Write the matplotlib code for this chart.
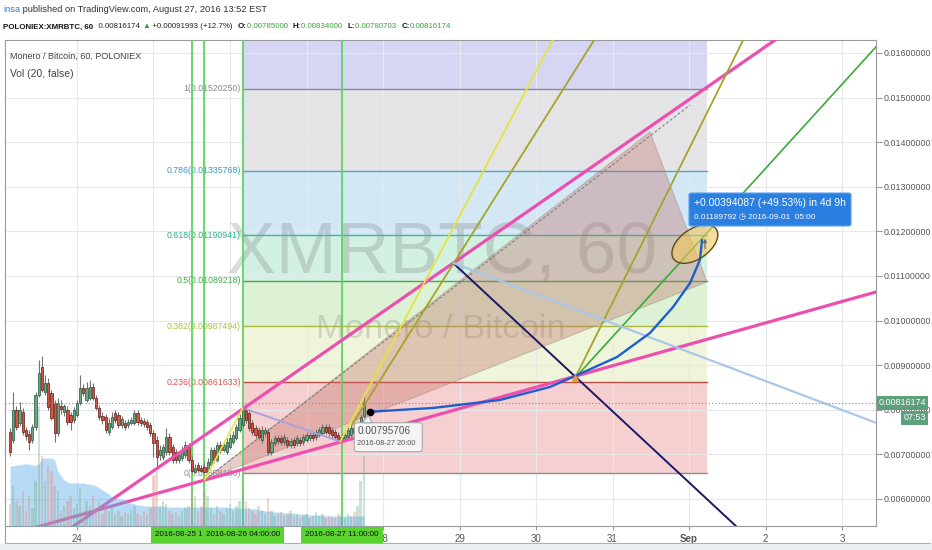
import numpy as np
import pandas as pd
import matplotlib
matplotlib.use("Agg")
import matplotlib.pyplot as plt
from matplotlib import font_manager as fm
from matplotlib.patches import Rectangle, Polygon, Ellipse, FancyBboxPatch
import matplotlib.transforms as mtransforms

# ---------------------------------------------------------------- data
candle_start = "2016-08-23 03:00"   # hourly candles
opens = [
    0.007503, 0.007324, 0.007996, 0.007705, 0.007951, 0.007548, 0.007458, 0.007324, 0.007615, 0.008332,
    0.008959, 0.008399, 0.008601, 0.008377, 0.008153, 0.007481, 0.008086, 0.007951, 0.007996, 0.007884,
    0.007772, 0.007884, 0.008153, 0.008489, 0.008220, 0.008265, 0.008511, 0.008265, 0.008041, 0.007862,
    0.007839, 0.007503, 0.007615, 0.007929, 0.007884, 0.007660, 0.007705, 0.007660, 0.007705, 0.007705,
    0.007929, 0.007772, 0.007750, 0.007727, 0.007660, 0.007481, 0.007324, 0.006988, 0.006943, 0.007055,
    0.007391, 0.007167, 0.007055, 0.006876, 0.006921, 0.006988, 0.007167, 0.006876, 0.006607, 0.006764,
    0.006697, 0.006719, 0.006607, 0.006764, 0.007100, 0.006876, 0.007212, 0.007100, 0.007055, 0.007167,
    0.007279, 0.007369, 0.007548, 0.007660, 0.007996, 0.007929, 0.007705, 0.007593, 0.007548, 0.007324,
    0.007481, 0.007503, 0.007055, 0.007257, 0.007369, 0.007369, 0.007279, 0.007324, 0.007212, 0.007324,
    0.007257, 0.007324, 0.007279, 0.007324, 0.007369, 0.007436, 0.007391, 0.007436, 0.007481, 0.007615,
    0.007615, 0.007548, 0.007503, 0.007436, 0.007324, 0.007324, 0.007391, 0.007436, 0.007593, 0.007481,
    0.007615, 0.00785000]
highs = [
    0.007593, 0.008399, 0.008086, 0.008175, 0.008041, 0.007615, 0.007548, 0.007682, 0.008399, 0.009116,
    0.009206, 0.008780, 0.008713, 0.008444, 0.008220, 0.008265, 0.008220, 0.008130, 0.008086, 0.007951,
    0.008063, 0.008220, 0.008780, 0.008578, 0.008623, 0.008668, 0.008601, 0.008332, 0.008108, 0.007951,
    0.007906, 0.007817, 0.007951, 0.007996, 0.007951, 0.007862, 0.007772, 0.007794, 0.007839, 0.007996,
    0.007996, 0.007839, 0.007817, 0.007794, 0.007727, 0.007548, 0.007414, 0.007212, 0.007234, 0.007593,
    0.007481, 0.007234, 0.007122, 0.007078, 0.007190, 0.007302, 0.007257, 0.006966, 0.006786, 0.006831,
    0.006764, 0.006809, 0.006921, 0.007167, 0.007167, 0.007279, 0.007302, 0.007302, 0.007369, 0.007458,
    0.007526, 0.007682, 0.007906, 0.008063, 0.008041, 0.007996, 0.007772, 0.007660, 0.007615, 0.007638,
    0.007615, 0.007593, 0.007346, 0.007436, 0.007436, 0.007436, 0.007458, 0.007391, 0.007369, 0.007391,
    0.007436, 0.007391, 0.007458, 0.007503, 0.007503, 0.007503, 0.007570, 0.007615, 0.007682, 0.007682,
    0.007682, 0.007615, 0.007570, 0.007503, 0.007458, 0.007503, 0.007615, 0.007660, 0.007660, 0.007682,
    0.007906, 0.00834000]
lows = [
    0.006966, 0.007257, 0.007548, 0.007638, 0.007436, 0.007324, 0.007100, 0.007257, 0.007548, 0.008287,
    0.008399, 0.008332, 0.007996, 0.007772, 0.007279, 0.007414, 0.007906, 0.007862, 0.007660, 0.007548,
    0.007705, 0.007839, 0.008108, 0.008310, 0.008175, 0.008220, 0.008220, 0.007996, 0.007772, 0.007682,
    0.007481, 0.007436, 0.007570, 0.007705, 0.007593, 0.007593, 0.007548, 0.007593, 0.007660, 0.007660,
    0.007660, 0.007638, 0.007615, 0.007548, 0.007414, 0.006943, 0.006719, 0.006876, 0.006876, 0.006988,
    0.006988, 0.006809, 0.006809, 0.006809, 0.006854, 0.006921, 0.006809, 0.006582, 0.006590, 0.006607,
    0.006607, 0.006600, 0.006595, 0.006719, 0.006809, 0.006831, 0.007033, 0.007055, 0.007010, 0.007122,
    0.007234, 0.007324, 0.007503, 0.007615, 0.007705, 0.007526, 0.007436, 0.007369, 0.007324, 0.007257,
    0.007414, 0.006988, 0.006988, 0.007190, 0.007234, 0.007212, 0.007212, 0.007145, 0.007145, 0.007145,
    0.007190, 0.007190, 0.007212, 0.007279, 0.007302, 0.007302, 0.007324, 0.007391, 0.007436, 0.007458,
    0.007414, 0.007369, 0.007324, 0.007279, 0.007279, 0.007279, 0.007346, 0.007391, 0.007436, 0.007436,
    0.007570, 0.00780703]
closes = [
    0.007055, 0.007996, 0.007615, 0.007996, 0.007503, 0.007414, 0.007279, 0.007615, 0.008332, 0.008825,
    0.008444, 0.008601, 0.008063, 0.007817, 0.007481, 0.008153, 0.008018, 0.008086, 0.007727, 0.007727,
    0.007996, 0.008153, 0.008489, 0.008377, 0.008489, 0.008511, 0.008265, 0.008041, 0.007839, 0.007772,
    0.007548, 0.007705, 0.007839, 0.007772, 0.007660, 0.007794, 0.007615, 0.007727, 0.007772, 0.007929,
    0.007727, 0.007705, 0.007682, 0.007615, 0.007481, 0.007257, 0.006943, 0.007100, 0.007167, 0.007391,
    0.007055, 0.006876, 0.006876, 0.006988, 0.007100, 0.007212, 0.006876, 0.006630, 0.006697, 0.006652,
    0.006630, 0.006607, 0.006831, 0.007100, 0.006876, 0.007212, 0.007100, 0.007212, 0.007279, 0.007369,
    0.007436, 0.007615, 0.007817, 0.008041, 0.007772, 0.007593, 0.007503, 0.007436, 0.007391, 0.007548,
    0.007548, 0.007055, 0.007279, 0.007369, 0.007302, 0.007279, 0.007391, 0.007212, 0.007302, 0.007212,
    0.007369, 0.007257, 0.007391, 0.007436, 0.007436, 0.007369, 0.007503, 0.007548, 0.007615, 0.007503,
    0.007481, 0.007436, 0.007391, 0.007324, 0.007391, 0.007436, 0.007548, 0.007593, 0.007481, 0.007615,
    0.007839, 0.00816174]
volumes = [
    22, 40, 25, 20, 35, 15, 30, 18, 45, 120,
    70, 45, 60, 55, 40, 35, 15, 20, 25, 30,
    18, 22, 38, 15, 25, 20, 30, 18, 25, 12,
    22, 15, 20, 12, 15, 10, 14, 12, 16, 20,
    12, 10, 14, 12, 18, 50, 55, 20, 25, 22,
    15, 12, 14, 10, 15, 18, 20, 35, 30, 15,
    20, 35, 30, 18, 12, 20, 15, 12, 18, 22,
    15, 20, 25, 35, 25, 18, 15, 12, 20, 15,
    12, 28, 15, 10, 12, 14, 10, 12, 15, 10,
    12, 8, 10, 12, 8, 10, 14, 10, 12, 8,
    10, 9, 8, 12, 10, 8, 12, 10, 14, 20,
    45, 70]
volume_ma = [
    60, 60, 61, 61, 62, 62, 62, 61, 61, 62,
    68, 68, 68, 68, 66, 55, 50, 46, 44, 43,
    43, 43, 43, 43, 42, 42, 41, 40, 38, 36,
    34, 32, 29, 28, 27, 27, 26, 24, 23, 22,
    21, 21, 20, 20, 20, 20, 20, 20, 20, 19,
    19, 19, 19, 19, 19, 19, 19, 19, 19, 19,
    19, 19, 19, 19, 19, 19, 19, 19, 19, 18,
    18, 18, 18, 18, 18, 18, 17, 17, 16, 16,
    15, 15, 15, 14, 14, 14, 13, 13, 13, 13,
    12, 12, 12, 12, 11, 11, 11, 11, 11, 10,
    10, 10, 10, 10, 10, 10, 10, 10, 10, 10,
    10, 10]

last_price = 0.00816174
price_ticks = [0.006, 0.007, 0.008, 0.009, 0.010, 0.011, 0.012, 0.013, 0.014, 0.015, 0.016]
day_ticks = ["2016-08-24", "2016-08-25", "2016-08-26", "2016-08-27", "2016-08-28", "2016-08-29",
             "2016-08-30", "2016-08-31", "2016-09-01", "2016-09-02", "2016-09-03"]
# 25, 26 and 27 sit under the green crosshair-date boxes and are not visible in the chart
day_labels = ["24", "", "", "", "28", "29", "30", "31", "Sep", "2", "3"]

fib_ratios = [0, 0.236, 0.382, 0.5, 0.618, 0.786, 1]
fib_prices = [0.00658186, 0.00861633, 0.00987494, 0.01089218, 0.01190941, 0.01335768, 0.01520250]
fib_start, fib_end = "2016-08-26 04:00", "2016-09-01 05:40"

marker_times = ["2016-08-25 12:00", "2016-08-25 16:00", "2016-08-26 04:00", "2016-08-27 11:00"]
marker_labels = ["2016-08-25 12:00:00", "2016-08-26 04:00:00", "2016-08-27 11:00:00"]
marker_label_times = ["2016-08-25 12:00", "2016-08-26 04:00", "2016-08-27 11:00"]

pink_upper = [("2016-08-23 21:36", 0.005324), ("2016-09-02 03:00", 0.016291)]
pink_lower = [("2016-08-23 09:36", 0.005334), ("2016-09-03 14:24", 0.010716)]
yellow_a = [("2016-08-25 16:00", 0.006426), ("2016-08-26 04:00", 0.008040)]
yellow_b = [("2016-08-27 10:30", 0.007278), ("2016-08-30 12:00", 0.017205)]
olive_a = [("2016-08-27 14:15", 0.007659), ("2016-08-31 00:00", 0.016945)]
olive_b = [("2016-08-30 12:15", 0.008713), ("2016-09-02 00:00", 0.017298)]
green_diag = [("2016-08-30 12:15", 0.008713), ("2016-09-03 14:24", 0.016431)]
navy_line = [("2016-08-28 22:00", 0.011291), ("2016-09-02 00:00", 0.004775)]
lightblue_line = [("2016-08-28 22:00", 0.011291), ("2016-09-03 14:24", 0.007607)]
lavender_line = [("2016-08-26 04:00", 0.008040), ("2016-08-27 11:00", 0.007278)]
dashed_line = [("2016-08-25 16:00", 0.006426), ("2016-09-01 00:20", 0.014834)]
wedge = [("2016-08-25 16:00", 0.006426), ("2016-08-31 11:45", 0.014228), ("2016-09-01 05:40", 0.010865)]
projection_curve = [("2016-08-27 20:00", 0.00795706), ("2016-08-28 15:40", 0.008040),
                    ("2016-08-29 12:40", 0.008219), ("2016-08-30 04:20", 0.008511),
                    ("2016-08-30 11:35", 0.008735), ("2016-08-31 01:25", 0.009183),
                    ("2016-08-31 11:45", 0.009722), ("2016-08-31 19:00", 0.010305),
                    ("2016-09-01 00:20", 0.010843), ("2016-09-01 03:25", 0.011358),
                    ("2016-09-01 04:05", 0.011807)]
target_zone = ("2016-09-01 01:50", 0.011717)
target_point = ("2016-09-01 05:00", 0.01189792)
start_point = ("2016-08-27 20:00", 0.00795706)
pivot_point = ("2016-08-30 12:15", 0.008713)

header1 = [("insa", "#2f7fd0", "normal"),
           (" published on TradingView.com, August 27, 2016 13:52 EST", "#333333", "normal")]
header2 = [("POLONIEX:XMRBTC, 60", "#111111", "bold"), ("  0.00816174 ", "#222222", "normal"),
           ("\u25B2", "#2ea043", "normal"), (" +0.00091993 (+12.7%)  ", "#222222", "normal"),
           ("O:", "#111111", "bold"), ("0.00785000  ", "#3aa53a", "normal"),
           ("H:", "#111111", "bold"), ("0.00834000  ", "#3aa53a", "normal"),
           ("L:", "#111111", "bold"), ("0.00780703  ", "#3aa53a", "normal"),
           ("C:", "#111111", "bold"), ("0.00816174", "#3aa53a", "normal")]
callout_line1 = "+0.00394087 (+49.53%) in 4d 9h"
callout_line2 = "0.01189792 \u25F7 2016-09-01  05:00"
tooltip_line1 = "0.00795706"
tooltip_line2 = "2016-08-27 20:00"

# ---------------------------------------------------------------- setup
W, H = 932, 550
fig = plt.figure(figsize=(W / 100, H / 100), dpi=100)
fig.patch.set_facecolor("white")
avail = {f.name for f in fm.fontManager.ttflist}
NARROW = "Liberation Sans Narrow" in avail
MAIN = "Liberation Sans Narrow" if NARROW else "Liberation Sans"
FAM = [MAIN, "DejaVu Sans"]
plt.rcParams["font.family"] = FAM
GROW = 1.0 if NARROW else 1.1     # a regular-width font: trade a little width for height
renderer = fig.canvas.get_renderer()


def xd(t):
    t = pd.to_datetime(t)
    v = (t - pd.Timestamp("2016-08-01")) / pd.Timedelta(days=1) + 1.0
    return np.asarray(v, dtype=float) if np.ndim(v) else float(v)


def pts(seq):
    return [xd(t) for t, _ in seq], [p for _, p in seq]


def fsize(s, width, weight="normal"):
    t = fig.text(0, 0, s, fontsize=10, fontweight=weight, family=FAM)
    w = t.get_window_extent(renderer).width
    t.remove()
    return 10.0 * width / w


def ftext(x, y, s, **kw):
    kw.setdefault("family", FAM)
    return fig.text(x / W, 1 - y / H, s, **kw)


def frect(x0, y0, x1, y1, **kw):
    r = Rectangle((x0 / W, 1 - y1 / H), (x1 - x0) / W, (y1 - y0) / H,
                  transform=fig.transFigure, **kw)
    fig.add_artist(r)
    return r


def segments(x0, y, parts, total_w, grow=1.0):
    ws = []
    for s, c, wt in parts:
        t = fig.text(0, 0, s, fontsize=10, fontweight=wt, family=FAM)
        ws.append(t.get_window_extent(renderer).width)
        t.remove()
    k = total_w / sum(ws) * grow
    x = x0
    for (s, c, wt), w in zip(parts, ws):
        ftext(x, y, s, color=c, fontweight=wt, fontsize=10 * k, ha="left", va="center")
        x += w * k


L, R, T, B = 5, 876, 40, 526
ax = fig.add_axes([L / W, 1 - B / H, (R - L) / W, (B - T) / H])
axv = ax.twinx()
ax.set_xlim(23.059, 34.444)
ax.set_ylim(0.005394, 0.016291)
ax.set_autoscale_on(False)
axv.set_ylim(0, B - T)
axv.set_autoscale_on(False)
axv.axis("off")
ax.set_facecolor("white")


def px(d, p):
    x, y = ax.transData.transform((d, p))
    return x, H - y


# ticks / grid
ax.yaxis.tick_right()
ax.set_yticks(price_ticks)
ysz = fsize("0.01600000", 47)
ax.set_yticklabels([f"{v:.8f}" for v in price_ticks])
ax.tick_params(axis="y", length=4, pad=1.5, labelsize=ysz, labelcolor="#555555", color="#999999", width=0.8)
ax.set_xticks([xd(d) for d in day_ticks])
ax.set_xticklabels(day_labels)
ax.tick_params(axis="x", length=3, pad=3, labelsize=ysz * 1.1, labelcolor="#555555", color="#999999", width=0.8)
for lab in ax.get_xticklabels():
    if lab.get_text() == "Sep":
        lab.set_fontweight("bold")
ax.grid(True, color="#e6e9ec", lw=0.8)
ax.set_axisbelow("line")
for s in ax.spines.values():
    s.set_color("#9a9a9a")
    s.set_linewidth(0.8)

# fib zones
fx0, fx1 = xd(fib_start), xd(fib_end)
zone_colors = ["#f6d0d0", "#eef5da", "#ddf2d5", "#d3f1e2", "#d4e7f5", "#e4e4e6"]
line_colors = ["#8c8c8c", "#c44a4a", "#aab843", "#43ad43", "#2fbf9d", "#4aa6cc", "#8a8a9a"]
label_colors = ["#8c8c8c", "#e05252", "#b2bf3c", "#46ad46", "#28b08f", "#3f98c8", "#888888"]
for i in range(6):
    ax.fill_between([fx0, fx1], fib_prices[i], fib_prices[i + 1], color=zone_colors[i], lw=0, zorder=1)
ax.fill_between([fx0, fx1], fib_prices[6], 0.0175, color="#d6d6f4", lw=0, zorder=1)
fsz = fsize("0.236(0.00861633)", 68) * GROW
for r, p, lc, tc in zip(fib_ratios, fib_prices, line_colors, label_colors):
    ax.plot([fx0, fx1], [p, p], color=lc, lw=1.0, zorder=2)
    ax.annotate(f"{r:g}({p:.8f})", xy=(fx0, p), xytext=(-1.5, 0), textcoords="offset points",
                ha="right", va="center", fontsize=fsz, color=tc, zorder=2, family=FAM)

# watermark
ax.text(442 / W, 1 - 254 / H, "XMRBTC, 60", transform=fig.transFigure, ha="center", va="center",
        fontsize=fsize("XMRBTC, 60", 405) * (1.06 if not NARROW else 1.0), color="#606060",
        alpha=0.22, zorder=1.6, family=FAM)
ax.text(441 / W, 1 - 330 / H, "Monero / Bitcoin", transform=fig.transFigure, ha="center", va="center",
        fontsize=fsize("Monero / Bitcoin", 250), color="#606060", alpha=0.22, zorder=1.6, family=FAM)

# wedge (triangle drawing)
wx, wy = pts(wedge)
ax.add_patch(Polygon(list(zip(wx, wy)), closed=True, facecolor="#bf6a62", alpha=0.34,
                     edgecolor="#8b7b6b", lw=0.8, zorder=2.5))
dx, dy = pts(dashed_line)
ax.plot(dx, dy, color="#777777", lw=0.7, ls=(0, (3, 2)), zorder=2.6)

# vertical marker lines
for t in marker_times:
    ax.axvline(xd(t), color="#5cd65c", lw=1.3, zorder=3)

# candles
ctimes = pd.date_range(candle_start, periods=len(opens), freq="h")
cx = xd(ctimes)
o, h, l, c = map(np.asarray, (opens, highs, lows, closes))
up = c >= o
ax.vlines(cx, l, h, color="#737375", lw=0.8, zorder=4)
body_lo = np.minimum(o, c)
body_h = np.maximum(np.abs(c - o), 0.000012)
ax.bar(cx, body_h, bottom=body_lo, width=0.7 / 24,
       color=np.where(up, "#6ba583", "#d75442"), edgecolor=np.where(up, "#225437", "#5b1a13"),
       linewidth=0.5, zorder=4.2)


def draw(seq, **kw):
    xs, ys = pts(seq)
    ax.plot(xs, ys, solid_capstyle="round", **kw)


draw(lavender_line, color="#aaa2de", lw=1.4, zorder=4.5)
draw(pink_upper, color="#ec4fb0", lw=2.3, zorder=5)
draw(pink_lower, color="#ec4fb0", lw=2.3, zorder=5)
draw(yellow_a, color="#eaea3c", lw=1.2, zorder=5)
draw(yellow_b, color="#e4e43a", lw=1.3, zorder=5)
draw(olive_a, color="#a3a428", lw=1.3, zorder=5)
draw(olive_b, color="#a3a428", lw=1.3, zorder=5)
draw(green_diag, color="#3aaa3a", lw=1.2, zorder=5)
draw(navy_line, color="#1b1864", lw=1.4, zorder=5)
draw(lightblue_line, color="#aac6ea", lw=1.6, zorder=5)
draw(projection_curve, color="#1f5fcc", lw=1.7, zorder=5.2)
ax.axhline(last_price, color="#6a9e80", lw=0.8, ls=(0, (1, 2)), zorder=5)
ax.plot([xd(pivot_point[0])], [pivot_point[1]], marker="^", color="#e0a030", ms=4, zorder=5.3)

# target ellipse
cxp, cyp = ax.transData.transform((xd(target_zone[0]), target_zone[1]))
ax.add_patch(Ellipse((cxp, cyp), 52, 30, angle=35, transform=mtransforms.IdentityTransform(),
                     facecolor="#f3c35c", alpha=0.6, edgecolor="none", zorder=5.1))
ax.add_patch(Ellipse((cxp, cyp), 52, 30, angle=35, transform=mtransforms.IdentityTransform(),
                     facecolor="none", edgecolor="#5a4a20", lw=1.0, zorder=5.3))
ax.annotate("", xy=(xd(target_point[0]), target_point[1]),
            xytext=(xd(target_point[0]), target_point[1] - 0.00035),
            arrowprops=dict(arrowstyle="-|>", color="#666666", lw=0.8, mutation_scale=5), zorder=5.4)
sx, sy = xd(start_point[0]), start_point[1]
ax.plot([sx], [sy], "o", color="black", ms=4.5, zorder=6)

# volume (twin axis, drawn above price pane)
axv.fill_between(cx, 0, volume_ma, color="#63b0ea", alpha=0.45, lw=0)
axv.bar(cx, volumes, width=0.75 / 24, color=np.where(up, "#6fae88", "#dc8a80"), alpha=0.35, lw=0)

# ---------------------------------------------------------------- figure-level furniture
segments(3, 10, header1, 225, grow=1.06 * GROW)
segments(3, 27, header2, 449, grow=1.0)
ftext(10, 56, "Monero / Bitcoin, 60, POLONIEX",
      fontsize=fsize("Monero / Bitcoin, 60, POLONIEX", 120) * GROW, color="#444444", va="center")
ftext(10, 74, "Vol (20, false)", fontsize=fsize("Vol (20, false)", 58) * GROW, color="#444444", va="center")

# bottom panel frame
fig.add_artist(plt.Line2D([L / W, L / W], [1 - B / H, 1 - 543 / H], transform=fig.transFigure,
                          color="#9a9a9a", lw=0.8))
fig.add_artist(plt.Line2D([L / W, 930 / W], [1 - 543 / H, 1 - 543 / H], transform=fig.transFigure,
                          color="#b0b0b0", lw=0.8))
frect(0, 544, W, H, facecolor="#eceff3", lw=0)

# x marker label boxes (each later box covers the previous label)
msz = fsize("2016-08-26 04:00:00", 74)
for i, (lab, t) in enumerate(zip(marker_labels, marker_label_times)):
    xc, _ = px(xd(t), 0.01)
    frect(xc - 41, 527, xc + 41, 543, facecolor="#5ad22f", lw=0, zorder=10 + 2 * i)
    ftext(xc, 535, lab, fontsize=msz, color="#111111", ha="center", va="center", zorder=11 + 2 * i)

# last price labels on the price scale
_, yl = px(xd("2016-08-30"), last_price)
frect(877, yl - 7, 928, yl + 7, facecolor="#5e9f7c", lw=0, zorder=10)
ftext(902.5, yl, f"{last_price:.8f}", fontsize=ysz, color="white", ha="center", va="center", zorder=11)
frect(901, yl + 8, 928, yl + 22, facecolor="#5e9f7c", lw=0, zorder=10)
ftext(914.5, yl + 15, "07:53", fontsize=ysz, color="white", ha="center", va="center", zorder=11)

# tooltip near start point
spx, spy = px(sx, sy)
tb = FancyBboxPatch(((spx - 16) / W, 1 - (spy + 40) / H), 68 / W, 29 / H,
                    boxstyle="round,pad=0,rounding_size=0.004", transform=fig.transFigure,
                    facecolor="#f4f4f4", edgecolor="#a8a8a8", lw=0.8)
fig.add_artist(tb)
fig.add_artist(Polygon([((spx - 8) / W, 1 - (spy + 11) / H), ((spx - 2) / W, 1 - (spy + 4) / H),
                        ((spx + 2) / W, 1 - (spy + 11) / H)], closed=True, transform=fig.transFigure,
                       facecolor="#f4f4f4", edgecolor="#a8a8a8", lw=0.8))
ftext(spx - 13, spy + 19, tooltip_line1, fontsize=fsize(tooltip_line1, 48) * GROW, color="#555555", va="center")
ftext(spx - 13, spy + 32, tooltip_line2, fontsize=fsize(tooltip_line2, 58), color="#555555", va="center")

# measurement callout
cb = FancyBboxPatch((689 / W, 1 - 226 / H), 162 / W, 33 / H,
                    boxstyle="round,pad=0,rounding_size=0.003", transform=fig.transFigure,
                    facecolor="#2b7fe0", edgecolor="#5aa2f0", lw=0.8)
fig.add_artist(cb)
ftext(694, 203, callout_line1, fontsize=fsize(callout_line1, 152), color="white", va="center")
ftext(694, 217, callout_line2, fontsize=fsize(callout_line2, 120), color="white", va="center")

fig.savefig("out.png", dpi=100, facecolor="white")
